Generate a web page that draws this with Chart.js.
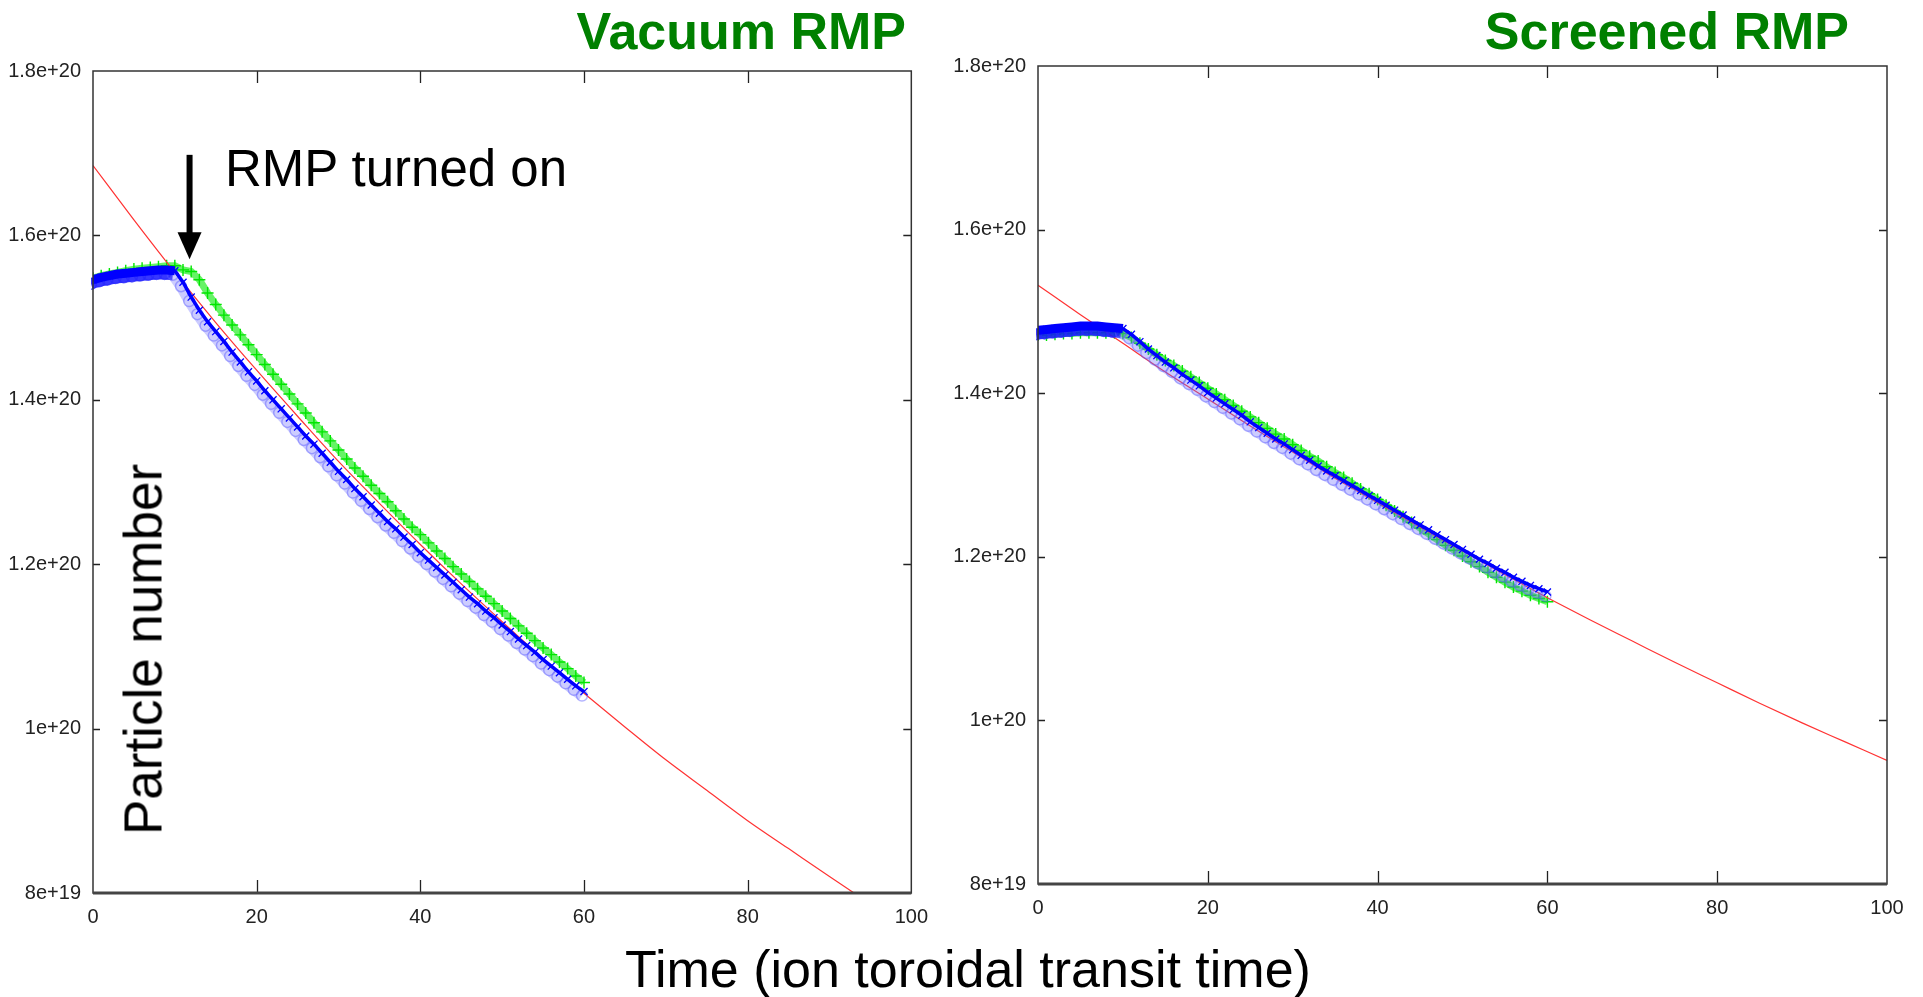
<!DOCTYPE html>
<html>
<head>
<meta charset="utf-8">
<script src="https://cdn.jsdelivr.net/npm/chart.js@4.4.1/dist/chart.umd.min.js"></script>
<style>
  html, body { margin: 0; padding: 0; background: #fff; }
  #page { position: relative; width: 1923px; height: 997px; overflow: hidden; background: #fff;
          font-family: "Liberation Sans", Arial, sans-serif; }
  .pane { position: absolute; top: 0; }
  .title { position: absolute; top: 5px; font-weight: bold; font-size: 52px; line-height: 52px;
           color: #008000; white-space: nowrap; }
  .note { position: absolute; font-size: 51px; line-height: 51px; color: #000; white-space: nowrap; }
</style>
</head>
<body>
<div id="page">
  <div class="pane" style="left:0; width:940px; height:940px;"><canvas id="vacuum" width="940" height="940"></canvas></div>
  <div class="pane" style="left:940px; width:983px; height:940px;"><canvas id="screened" width="983" height="940"></canvas></div>

  <div class="title" style="right:1017px;">Vacuum RMP</div>
  <div class="title" style="right:74px;">Screened RMP</div>
  <div class="note" style="left:225px; top:143px;">RMP turned on</div>
  <div class="note" style="left:-57px; top:623px; width:400px; text-align:center; font-size:53px; line-height:53px; transform:rotate(-90deg);">Particle number</div>
  <div class="note" style="left:468px; top:943px; width:1000px; text-align:center; font-size:52px; line-height:52px;">Time (ion toroidal transit time)</div>
</div>

<script>
// axes
const xTickValues = [0, 20, 40, 60, 80, 100];
const yTickValues = [0.8, 1.0, 1.2, 1.4, 1.6, 1.8];   // in units of 1e20
const yTickLabels = ['8e+19', '1e+20', '1.2e+20', '1.4e+20', '1.6e+20', '1.8e+20'];

// simulation time samples (ion toroidal transit time)
const timeSteps = [0, 1, 2, 3, 4, 5, 6, 7, 8, 9, 10, 11, 12, 13, 14, 15, 16, 17, 18, 19, 20,
  21, 22, 23, 24, 25, 26, 27, 28, 29, 30, 31, 32, 33, 34, 35, 36, 37, 38, 39, 40,
  41, 42, 43, 44, 45, 46, 47, 48, 49, 50, 51, 52, 53, 54, 55, 56, 57, 58, 59, 60];
const rmpOnTime = 10;   // before this the blue band is drawn solid

// --- Vacuum RMP (particle number, 1e20) ---
const vacuumBlue = [1.546, 1.549, 1.551, 1.553, 1.554, 1.555, 1.556, 1.557, 1.558, 1.558, 1.557,
  1.543, 1.525, 1.509, 1.495, 1.483, 1.471, 1.458, 1.446, 1.434, 1.423,
  1.411, 1.400, 1.389, 1.378, 1.367, 1.356, 1.346, 1.335, 1.324, 1.313,
  1.303, 1.292, 1.282, 1.272, 1.262, 1.252, 1.243, 1.233, 1.224, 1.214,
  1.205, 1.196, 1.187, 1.178, 1.169, 1.160, 1.152, 1.143, 1.135, 1.126,
  1.118, 1.109, 1.101, 1.093, 1.084, 1.076, 1.068, 1.060, 1.052, 1.045];
const vacuumGreen = [1.548, 1.551, 1.553, 1.555, 1.557, 1.559, 1.560, 1.561, 1.562, 1.563, 1.563,
  1.558, 1.556, 1.546, 1.530, 1.516, 1.503, 1.491, 1.479, 1.467, 1.455,
  1.443, 1.431, 1.419, 1.407, 1.395, 1.384, 1.372, 1.361, 1.350, 1.339,
  1.328, 1.317, 1.307, 1.296, 1.286, 1.276, 1.265, 1.255, 1.245, 1.236,
  1.226, 1.216, 1.207, 1.197, 1.188, 1.179, 1.170, 1.161, 1.152, 1.143,
  1.134, 1.125, 1.116, 1.107, 1.098, 1.090, 1.081, 1.073, 1.064, 1.056];
const vacuumRedTimes = [0, 5, 10, 15, 20, 25, 30, 35, 40, 45, 50, 55, 60, 65, 70, 75, 80, 85, 90, 93];
const vacuumRed = [1.685, 1.619, 1.555, 1.494, 1.436, 1.380, 1.325, 1.274, 1.224, 1.176,
  1.130, 1.085, 1.043, 1.002, 0.962, 0.925, 0.888, 0.854, 0.820, 0.800];

// --- Screened RMP (particle number, 1e20) ---
const screenedBlue = [1.477, 1.478, 1.479, 1.480, 1.481, 1.482, 1.482, 1.482, 1.481, 1.480, 1.479,
  1.472, 1.463, 1.454, 1.446, 1.438, 1.431, 1.423, 1.416, 1.409, 1.401,
  1.394, 1.387, 1.380, 1.373, 1.365, 1.358, 1.351, 1.344, 1.338, 1.331,
  1.324, 1.318, 1.311, 1.305, 1.299, 1.293, 1.287, 1.281, 1.275, 1.269,
  1.263, 1.257, 1.251, 1.245, 1.239, 1.233, 1.227, 1.221, 1.215, 1.209,
  1.203, 1.197, 1.192, 1.186, 1.181, 1.175, 1.170, 1.165, 1.161, 1.157];
const screenedGreen = [1.471, 1.471, 1.472, 1.473, 1.473, 1.474, 1.474, 1.474, 1.474, 1.474, 1.473,
  1.468, 1.461, 1.454, 1.447, 1.440, 1.434, 1.427, 1.420, 1.413, 1.406,
  1.399, 1.392, 1.385, 1.378, 1.371, 1.364, 1.357, 1.350, 1.344, 1.337,
  1.330, 1.323, 1.317, 1.310, 1.303, 1.297, 1.290, 1.283, 1.277, 1.270,
  1.263, 1.256, 1.249, 1.242, 1.235, 1.228, 1.221, 1.214, 1.208, 1.201,
  1.194, 1.188, 1.181, 1.175, 1.169, 1.163, 1.158, 1.153, 1.149, 1.145];
const screenedRedTimes = [0, 5, 10, 15, 20, 25, 30, 35, 40, 45, 50, 55, 60, 65, 70, 75, 80, 85, 90, 95, 100];
const screenedRed = [1.532, 1.496, 1.461, 1.426, 1.393, 1.360, 1.328, 1.296, 1.266, 1.236,
  1.207, 1.178, 1.150, 1.123, 1.097, 1.071, 1.046, 1.021, 0.997, 0.974, 0.951];

// "RMP turned on" arrow, in data coordinates of the left panel
const arrowAt = { x: 11.8, from: 1.698, to: 1.571 };

const tickFont = { family: '"Liberation Sans", Arial, sans-serif', size: 20 };
const HALO = 1;   // dataset index of the light blue halo

function pts(xs, ys) {
  return ys.map((v, i) => ({ x: xs[i], y: v }));
}

// gnuplot-like frame with inward ticks on all four sides
const frameTicks = {
  id: 'frameTicks',
  beforeDatasetDraw(chart, args) {
    // the halo sits a little below-left of the blue markers in the original
    if (args.index === HALO) { chart.ctx.save(); chart.ctx.translate(-2, 4); }
  },
  afterDatasetDraw(chart, args) {
    if (args.index === HALO) chart.ctx.restore();
  },
  afterDraw(chart) {
    const { ctx, chartArea: a, scales: { x, y } } = chart;
    ctx.save();
    ctx.strokeStyle = '#222';
    ctx.lineWidth = 1.3;
    ctx.beginPath();
    xTickValues.slice(1, -1).forEach(v => {
      const px = Math.round(x.getPixelForValue(v)) + 0.5;
      ctx.moveTo(px, a.bottom); ctx.lineTo(px, a.bottom - 13);
      ctx.moveTo(px, a.top); ctx.lineTo(px, a.top + 12);
    });
    yTickValues.slice(1, -1).forEach(v => {
      const py = Math.round(y.getPixelForValue(v)) + 0.5;
      ctx.moveTo(a.left, py); ctx.lineTo(a.left + 7, py);
      ctx.moveTo(a.right, py); ctx.lineTo(a.right - 8, py);
    });
    ctx.stroke();
    ctx.strokeStyle = '#333';
    ctx.lineWidth = 1.5;
    ctx.strokeRect(a.left, a.top, a.right - a.left, a.bottom - a.top);
    ctx.lineWidth = 3;
    ctx.strokeStyle = '#444';
    ctx.beginPath();
    ctx.moveTo(a.left, a.bottom); ctx.lineTo(a.right, a.bottom);
    ctx.stroke();
    ctx.restore();
  }
};

const arrowNote = {
  id: 'arrowNote',
  afterDatasetsDraw(chart) {
    const { ctx, scales: { x, y } } = chart;
    const ax = x.getPixelForValue(arrowAt.x);
    const top = y.getPixelForValue(arrowAt.from);
    const tip = y.getPixelForValue(arrowAt.to);
    ctx.save();
    ctx.fillStyle = '#000';
    ctx.fillRect(ax - 3, top, 6, tip - top - 24);
    ctx.beginPath();
    ctx.moveTo(ax - 12, tip - 27);
    ctx.lineTo(ax + 12, tip - 27);
    ctx.lineTo(ax, tip);
    ctx.closePath();
    ctx.fill();
    ctx.restore();
  }
};

const beforeRmp = c => c.raw && c.raw.x < rmpOnTime;

function makeChart(id, blue, green, redTimes, red, box, extra) {
  return new Chart(document.getElementById(id), {
    type: 'scatter',
    data: {
      datasets: [
        { // blue x markers with dark core
          data: pts(timeSteps, blue), showLine: true,
          borderColor: '#0000ff', borderWidth: 3.5,
          segment: { borderWidth: s => s.p0.parsed.x < rmpOnTime ? 9 : 3.5 },
          pointStyle: 'crossRot', pointRadius: 5, pointBorderColor: '#0000ff', pointBorderWidth: 1.3
        },
        { // light blue halo round the blue markers
          data: pts(timeSteps, blue), showLine: true,
          borderColor: 'rgba(110,110,255,0.35)', borderWidth: 11,
          segment: { borderColor: s => s.p0.parsed.x < rmpOnTime ? 'rgba(20,20,255,0.85)' : 'rgba(110,110,255,0.35)' },
          pointStyle: 'circle', pointRadius: 5.5,
          pointBorderColor: c => beforeRmp(c) ? 'rgba(40,40,255,0.7)' : 'rgba(90,90,255,0.45)',
          pointBackgroundColor: 'rgba(0,0,0,0)', pointBorderWidth: 1.5
        },
        { // red fit
          data: pts(redTimes, red), showLine: true, cubicInterpolationMode: 'monotone',
          borderColor: '#ff3333', borderWidth: 1.2, pointRadius: 0
        },
        { // green + markers
          data: pts(timeSteps, green), showLine: true,
          borderColor: 'rgba(0,235,0,0.6)', borderWidth: 7,
          pointStyle: 'cross', pointRadius: 6, pointBorderColor: '#00e600', pointBorderWidth: 1.4
        }
      ]
    },
    options: {
      responsive: false,
      animation: false,
      devicePixelRatio: 1,
      layout: { padding: { top: box.top, right: box.right, left: 0, bottom: 0 } },
      plugins: { legend: { display: false }, tooltip: { enabled: false } },
      scales: {
        x: {
          type: 'linear', min: 0, max: 100,
          grid: { display: false, drawTicks: false }, border: { display: false },
          afterBuildTicks: s => { s.ticks = xTickValues.map(v => ({ value: v })); },
          afterFit: s => { s.height = box.xHeight; },
          ticks: { color: '#222', font: tickFont, padding: 12, maxRotation: 0, callback: v => String(v) }
        },
        y: {
          type: 'linear', min: 0.8, max: 1.8,
          grid: { display: false, drawTicks: false }, border: { display: false },
          afterBuildTicks: s => { s.ticks = yTickValues.map(v => ({ value: v })); },
          afterFit: s => { s.width = box.yWidth; },
          ticks: { color: '#222', font: tickFont, padding: 12,
                   callback: (v, i) => yTickLabels[i] }
        }
      }
    },
    plugins: [frameTicks].concat(extra)
  });
}

makeChart('vacuum', vacuumBlue, vacuumGreen, vacuumRedTimes, vacuumRed,
  { top: 71, right: 25, yWidth: 93, xHeight: 47 }, [arrowNote]);
makeChart('screened', screenedBlue, screenedGreen, screenedRedTimes, screenedRed,
  { top: 66, right: 36, yWidth: 98, xHeight: 56 }, []);
</script>
</body>
</html>
